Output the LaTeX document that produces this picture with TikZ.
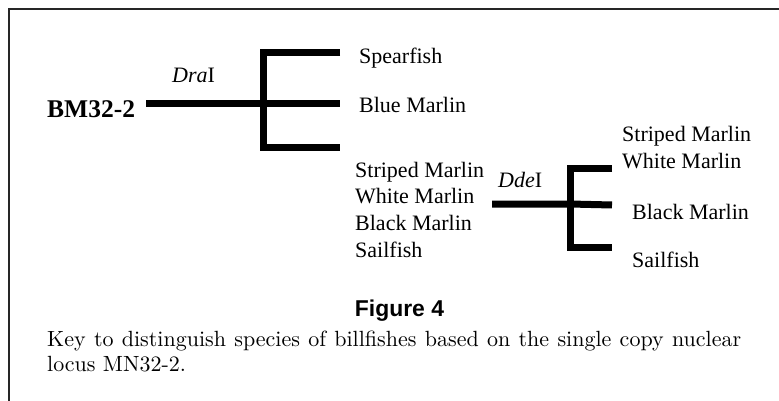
\documentclass[tikz,border=0pt]{standalone}
\usepackage{fontspec}
\setmainfont{Liberation Serif}
\newfontfamily\figfont{Liberation Sans}
\newfontfamily\capfont{lmroman10-regular}[Extension=.otf]
\begin{document}
\begin{tikzpicture}[x=1pt,y=-1pt,
  lbl/.style={font=\fontsize{22}{26}\selectfont, anchor=base west, inner sep=0pt},
  branch/.style={line width=7pt, line join=miter, line cap=butt},
  frame/.style={line width=2pt, draw=black!85}]
\useasboundingbox (0,0) rectangle (779,401);
\draw[frame] (9,401) -- (9,9) -- (779,9);

% first key
\node[lbl, font=\fontsize{25.5}{30}\selectfont\bfseries] (root) at (47,118) {BM32-2};
\coordinate (r0) at (146,104);
\coordinate (r1) at (340,104);
\coordinate (t1) at (340,53);
\coordinate (b1) at (340,148);
\draw[branch] (t1) -- (263,53) -- (263,148) -- (b1);
\draw[branch] (r0) -- (r1);
\node[lbl] (dra) at (172,83) {\textit{Dra}I};
\node[lbl] (spear) at (359,64) {Spearfish};
\node[lbl] (blue) at (359,113) {Blue Marlin};
\node[lbl] (g1) at (355,177) {Striped Marlin};
\node[lbl] (g2) at (355,203) {White Marlin};
\node[lbl] (g3) at (355,230) {Black Marlin};
\node[lbl] (g4) at (355,257) {Sailfish};

% second key
\coordinate (s0) at (492,204);
\coordinate (s1) at (612,205);
\coordinate (t2) at (612,168);
\coordinate (b2) at (612,247);
\draw[branch] (t2) -- (570,168) -- (570,247) -- (b2);
\draw[branch] (s0) -- (570,204) -- (s1);
\node[lbl] (dde) at (498,187) {\textit{Dde}I};
\node[lbl] (h1) at (622,142) {Striped Marlin};
\node[lbl] (h2) at (622,168) {White Marlin};
\node[lbl] (h3) at (632,219) {Black Marlin};
\node[lbl] (h4) at (632,267) {Sailfish};

% caption
\node[anchor=base, inner sep=0pt, font=\figfont\fontsize{22.9}{26}\selectfont\bfseries] (fig) at (399.5,316) {Figure 4};
\node[anchor=north west, inner sep=0pt, text width=694pt, align=justify,
      font=\capfont\fontsize{22}{24.5}\selectfont] (cap) at (47,331)
  {\noindent Key to distinguish species of billfishes based on the single copy nuclear\linebreak locus MN32-2.};
\end{tikzpicture}
\end{document}
